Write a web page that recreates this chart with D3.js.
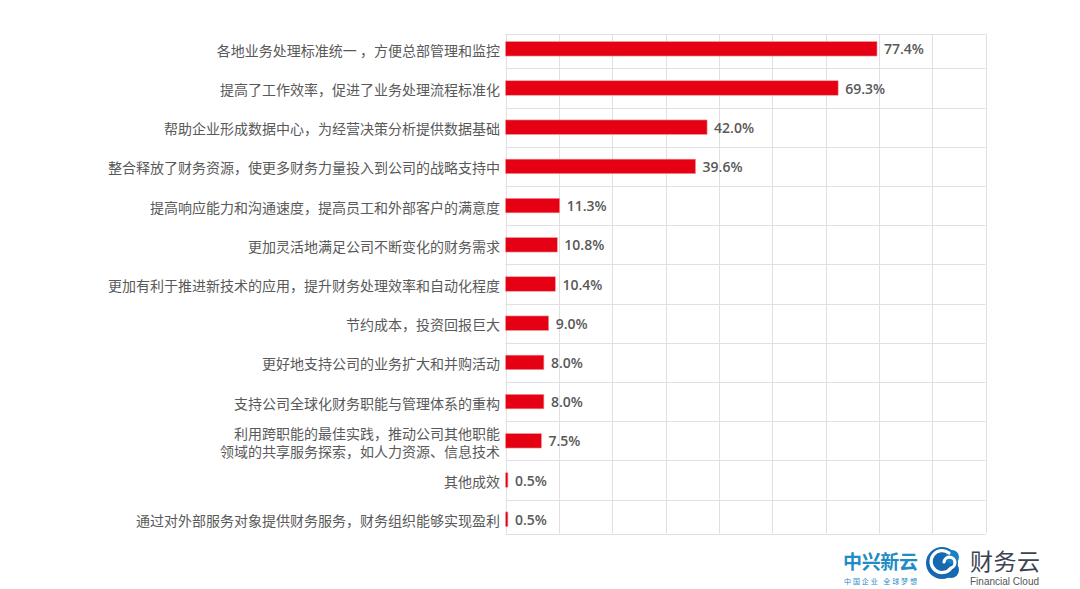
<!DOCTYPE html>
<html><head><meta charset="utf-8">
<script src="https://cdn.jsdelivr.net/npm/d3@7"></script>
<style>
body{margin:0;background:#fff}
svg{display:block}
</style>
</head><body>
<svg id="chart" width="1080" height="589"></svg>
<script>
// ---- data ----
const categories = [
  "各地业务处理标准统一 ，方便总部管理和监控",
  "提高了工作效率，促进了业务处理流程标准化",
  "帮助企业形成数据中心，为经营决策分析提供数据基础",
  "整合释放了财务资源，使更多财务力量投入到公司的战略支持中",
  "提高响应能力和沟通速度，提高员工和外部客户的满意度",
  "更加灵活地满足公司不断变化的财务需求",
  "更加有利于推进新技术的应用，提升财务处理效率和自动化程度",
  "节约成本，投资回报巨大",
  "更好地支持公司的业务扩大和并购活动",
  "支持公司全球化财务职能与管理体系的重构",
  "利用跨职能的最佳实践，推动公司其他职能\n领域的共享服务探索，如人力资源、信息技术",
  "其他成效",
  "通过对外部服务对象提供财务服务，财务组织能够实现盈利"
];
const values = [77.4, 69.3, 42.0, 39.6, 11.3, 10.8, 10.4, 9.0, 8.0, 8.0, 7.5, 0.5, 0.5];
const valueLabels = ["77.4%", "69.3%", "42.0%", "39.6%", "11.3%", "10.8%", "10.4%", "9.0%", "8.0%", "8.0%", "7.5%", "0.5%", "0.5%"];
const gridColumns = 9;
const xDomain = [0, 100];

// ---- layout ----
const svg = d3.select("#chart");
const plotLeft = 505.5, plotRight = 985.5;
const tableTop = 34, tableBottom = 533.5;
const x = d3.scaleLinear().domain(xDomain).range([plotLeft, plotRight]);
const y = d3.scaleBand().domain(categories).range([29.2, 538.8]).paddingInner(0).paddingOuter(0);
const barH = 14.5;
const gridColor = "#e1dfe3";
const textColor = "#595959";

const grid = svg.append("g").attr("class", "grid");
// vertical grid lines
const colTicks = d3.range(gridColumns + 1).map(i => xDomain[0] + (xDomain[1] - xDomain[0]) * i / gridColumns);
grid.selectAll("line.v").data(colTicks).enter().append("line")
  .attr("class", "v")
  .attr("x1", d => Math.round(x(d)) + 0.5).attr("x2", d => Math.round(x(d)) + 0.5)
  .attr("y1", tableTop).attr("y2", tableBottom)
  .attr("stroke", gridColor).attr("stroke-width", 1);
// horizontal row lines
const rowEdges = categories.slice(1).map(c => y(c));
grid.selectAll("line.h").data([tableTop].concat(rowEdges, [tableBottom])).enter().append("line")
  .attr("class", "h")
  .attr("x1", plotLeft).attr("x2", plotRight)
  .attr("y1", d => Math.round(d) + 0.5).attr("y2", d => Math.round(d) + 0.5)
  .attr("stroke", gridColor).attr("stroke-width", 1);

// bars
svg.append("g").selectAll("rect").data(values).enter().append("rect")
  .attr("x", x(0))
  .attr("y", (d, i) => y(categories[i]) + y.bandwidth() / 2 - barH / 2)
  .attr("width", d => x(d) - x(0))
  .attr("height", barH)
  .attr("fill", "#e50013")
  .attr("stroke", "#f29a9f").attr("stroke-width", 0.6);

// value labels
svg.append("g").selectAll("text").data(values).enter().append("text")
  .attr("x", d => x(d) + 7)
  .attr("y", (d, i) => y(categories[i]) + y.bandwidth() / 2)
  .attr("dominant-baseline", "central")
  .attr("font-family", "'Open Sans', 'Noto Sans', sans-serif")
  .attr("font-weight", 600)
  .attr("font-size", 14)
  .attr("fill", textColor)
  .text((d, i) => valueLabels[i]);

// category labels
const labels = svg.append("g").selectAll("text").data(categories).enter().append("text")
  .attr("text-anchor", "end")
  .attr("font-family", "'Noto Sans CJK SC', sans-serif")
  .attr("font-size", 14)
  .attr("fill", textColor);
labels.each(function(d) {
  const lines = d.split("\n");
  const cy = y(d) + y.bandwidth() / 2 + 1;
  const lh = 18;
  const t = d3.select(this);
  lines.forEach((ln, j) => {
    t.append("tspan")
      .attr("x", 500)
      .attr("y", cy + (j - (lines.length - 1) / 2) * lh)
      .attr("dominant-baseline", "central")
      .text(ln);
  });
});

// ---- logo ----
const logo = svg.append("g");
logo.append("text").attr("x", 843).attr("y", 560).attr("dominant-baseline", "central")
  .attr("font-family", "'Noto Sans CJK SC', sans-serif").attr("font-weight", 700)
  .attr("font-size", 19).attr("fill", "#1f8cc6").attr("textLength", 75).text("中兴新云");
logo.append("text").attr("x", 844).attr("y", 580.5).attr("dominant-baseline", "central")
  .attr("font-family", "'Noto Sans CJK SC', sans-serif")
  .attr("font-size", 7).attr("fill", "#1f8cc6").attr("textLength", 73).text("中国企业  全球梦想");
// emblem
const cx = 942, cy = 563;
logo.append("circle").attr("cx", cx).attr("cy", cy).attr("r", 16).attr("fill", "#1669b0");
logo.append("circle").attr("cx", cx + 9).attr("cy", cy + 7).attr("r", 8).attr("fill", "#1669b0");
logo.append("circle").attr("cx", cx + 10).attr("cy", cy - 6).attr("r", 7).attr("fill", "#1a7fc4");
logo.append("path")
  .attr("d", `M${cx + 7},${cy - 10} A11,11 0 1,0 ${cx + 9},${cy + 5} A5.5,5.5 0 1,0 ${cx + 2},${cy - 1}`)
  .attr("fill", "none").attr("stroke", "#fff").attr("stroke-width", 3.2).attr("stroke-linecap", "round");
logo.append("text").attr("x", 970).attr("y", 560).attr("dominant-baseline", "central")
  .attr("font-family", "'Noto Sans CJK SC', sans-serif").attr("font-weight", 400)
  .attr("font-size", 23).attr("fill", "#3b4352").attr("textLength", 70).text("财务云");
logo.append("text").attr("x", 970).attr("y", 581).attr("dominant-baseline", "central")
  .attr("font-family", "'Liberation Sans', Arial, sans-serif")
  .attr("font-size", 10).attr("fill", "#555").attr("textLength", 69).text("Financial Cloud");
</script>
</body></html>
